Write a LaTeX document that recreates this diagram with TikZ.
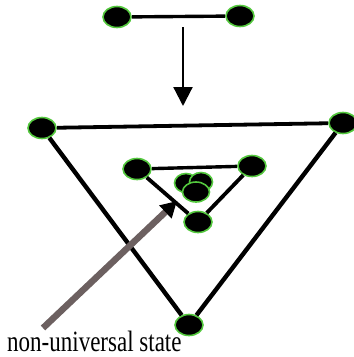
\documentclass[tikz,border=0pt]{standalone}
\usepackage{fontspec}
\setmainfont{Liberation Serif}
\usepackage{graphicx}
\usetikzlibrary{arrows.meta,shapes.geometric}
\definecolor{rim}{RGB}{84,200,62}
\definecolor{pointer}{RGB}{108,96,96}
\tikzset{
  state/.style={ellipse, draw=rim, line width=1.6pt, fill=black,
                minimum width=28pt, minimum height=21pt, inner sep=0pt},
  link/.style={line width=3.8pt, black},
  drop/.style={-{Triangle[length=19pt,width=19pt]}, line width=2.2pt},
  hint/.style={-{Triangle[length=16pt,width=17pt,color=black]}, line width=6.5pt, pointer},
}
\begin{document}
\begin{tikzpicture}[x=1pt,y=-1pt]
  \useasboundingbox (0,0) rectangle (354,357);
  % pair at the top
  \node[state] (p1) at (117,17) {};
  \node[state] (p2) at (240,16) {};
  \draw[link,line width=3.4pt] (p1) -- (p2);
  \coordinate (d0) at (183,27);
  \coordinate (d1) at (183,106);
  \draw[drop] (d0) -- (d1);
  % outer triangle
  \node[state] (o1) at (42,128) {};
  \node[state] (o2) at (343,123) {};
  \node[state] (o3) at (189,325) {};
  \draw[link] (o1) -- (o2);
  \draw[link,line width=4.4pt] (o1) -- (o3);
  \draw[link,line width=4.4pt] (o2) -- (o3);
  % inner triangle
  \node[state] (i1) at (137,169) {};
  \node[state] (i2) at (252,166) {};
  \node[state] (i3) at (198,222) {};
  \draw[link,line width=3.4pt] (i1) -- (i2);
  \draw[link] (i1) -- (i3);
  \draw[link] (i2) -- (i3);
  % collapsed states
  \node[state,minimum width=23pt,minimum height=19pt] (c1) at (186,183) {};
  \node[state,minimum width=23pt,minimum height=19pt] (c2) at (201,182) {};
  \node[state,minimum width=27pt,minimum height=20pt] (c3) at (196,192) {};
  % pointer and label
  \coordinate (a0) at (43,328);
  \coordinate (a1) at (177,201);
  \draw[hint] (a0) -- (a1);
  \node[anchor=base west,inner sep=0pt] (lbl) at (7,351)
    {\scalebox{1}[1.28]{\fontsize{23}{23}\selectfont non-universal state}};
\end{tikzpicture}
\end{document}
